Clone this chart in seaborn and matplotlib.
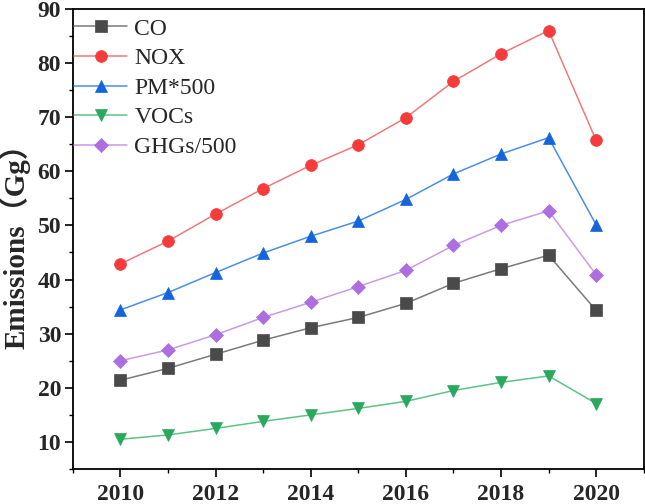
import matplotlib
matplotlib.use("Agg")
import matplotlib.pyplot as plt
import seaborn as sns
import pandas as pd
from matplotlib.ticker import MultipleLocator

years = [2010, 2011, 2012, 2013, 2014, 2015, 2016, 2017, 2018, 2019, 2020]
co = [21.4, 23.6, 26.2, 28.8, 31.1, 33.0, 35.6, 39.3, 42.0, 44.5, 34.3]
nox = [42.9, 47.1, 52.1, 56.8, 61.1, 64.9, 69.9, 76.6, 81.7, 86.0, 65.7]
pm500 = [34.4, 37.6, 41.3, 44.9, 48.0, 50.8, 54.8, 59.5, 63.2, 66.2, 50.1]
vocs = [10.5, 11.3, 12.5, 13.8, 15.0, 16.2, 17.5, 19.5, 21.0, 22.2, 17.1]
ghg500 = [25.0, 27.0, 29.8, 33.0, 35.8, 38.7, 41.7, 46.3, 50.0, 52.7, 40.9]

labels = ["CO", "NOX", "PM*500", "VOCs", "GHGs/500"]
series = [co, nox, pm500, vocs, ghg500]

sns.set_theme(style="ticks")
plt.rcParams["font.family"] = ["Liberation Serif", "Noto Sans CJK SC", "DejaVu Sans"]

styles = {
    "CO": dict(line="#7a7a7a", mk="#4a4a4a", marker="s", ms=8),
    "NOX": dict(line="#f07a7a", mk="#f53b3b", marker="o", ms=8.5),
    "PM*500": dict(line="#4a8ee8", mk="#1464dc", marker="^", ms=9),
    "VOCs": dict(line="#5cc486", mk="#2aa85e", marker="v", ms=9),
    "GHGs/500": dict(line="#c89ae8", mk="#ac6ee0", marker="D", ms=7.5),
}

fig = plt.figure(figsize=(6.45, 5.04), dpi=100)
ax = fig.add_axes([0.113, 0.0694, 0.885, 0.913])

for lab, vals in zip(labels, series):
    df = pd.DataFrame({"Year": years, "Value": vals})
    st = styles[lab]
    sns.lineplot(data=df, x="Year", y="Value", ax=ax, color=st["line"], linewidth=1.1,
                 marker=st["marker"], markersize=st["ms"], markerfacecolor=st["mk"],
                 markeredgecolor=st["mk"], markeredgewidth=0.5, label=lab)

ax.set_xlim(2009, 2021)
ax.set_ylim(5, 90)
ax.xaxis.set_major_locator(MultipleLocator(2))
ax.xaxis.set_minor_locator(MultipleLocator(1))
ax.yaxis.set_major_locator(MultipleLocator(10))
ax.yaxis.set_minor_locator(MultipleLocator(5))
ax.tick_params(axis="both", which="major", direction="out", length=5.5, width=1.2,
               labelsize=17, top=False, right=False, color="black", pad=3)
ax.tick_params(axis="x", which="major", pad=5)
ax.tick_params(axis="both", which="minor", direction="out", length=3, width=1.0,
               top=False, right=False, color="black")
for t in ax.get_xticklabels() + ax.get_yticklabels():
    t.set_fontweight("bold")
for s in ax.spines.values():
    s.set_linewidth(1.3)
    s.set_color("black")

ax.set_xlabel("")
ax.set_ylabel("Emissions（Gg）", fontsize=21, fontweight="bold", labelpad=5)

leg = ax.legend(loc="upper left", frameon=False, fontsize=17, handlelength=2.25,
                labelspacing=0.34, handletextpad=0.3, borderaxespad=0.0,
                borderpad=0.2, bbox_to_anchor=(-0.006, 0.99))

fig.savefig("out.png", dpi=100)
